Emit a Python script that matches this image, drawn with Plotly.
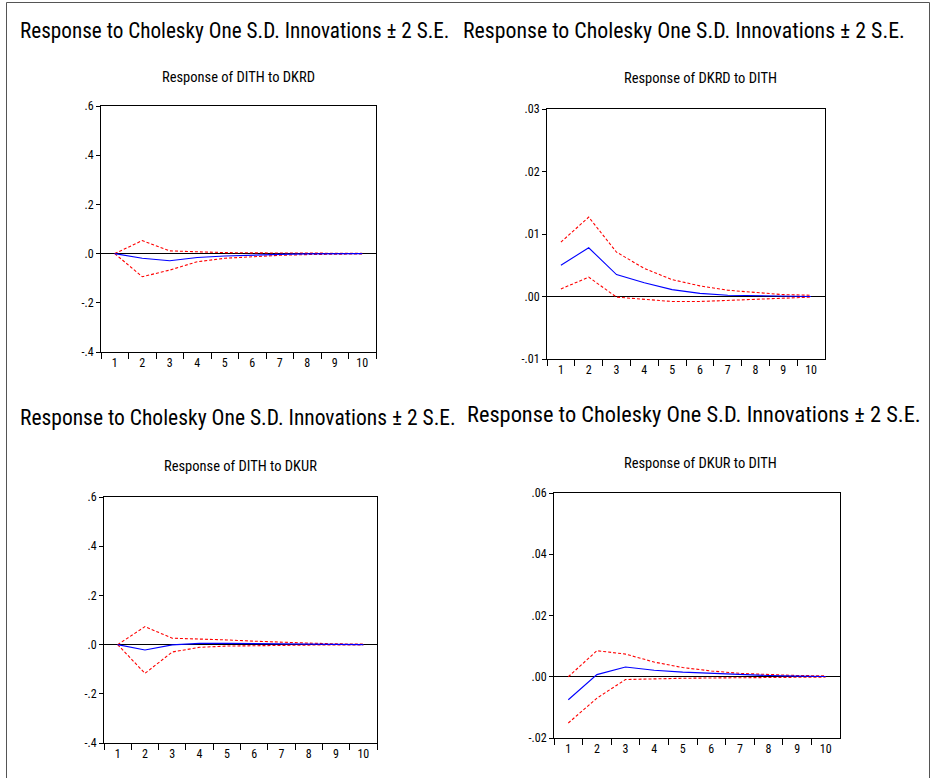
import plotly.graph_objects as go

W, H = 931, 778
periods = [1, 2, 3, 4, 5, 6, 7, 8, 9, 10]

# Panel 1: Response of DITH to DKRD
p1_resp = [0.0, -0.019, -0.029, -0.016, -0.010, -0.005, -0.003, -0.001, 0.0, 0.0]
p1_up = [0.0, 0.053, 0.011, 0.007, 0.004, 0.003, 0.002, 0.001, 0.001, 0.001]
p1_lo = [0.0, -0.094, -0.067, -0.033, -0.019, -0.012, -0.007, -0.004, -0.002, -0.001]

# Panel 2: Response of DKRD to DITH
p2_resp = [0.0050, 0.0078, 0.0035, 0.0022, 0.0011, 0.0005, 0.0002, 0.0001, 0.0, 0.0]
p2_up = [0.0087, 0.0127, 0.0071, 0.0045, 0.0027, 0.0017, 0.0010, 0.0006, 0.0003, 0.0002]
p2_lo = [0.0012, 0.0031, -0.0001, -0.0005, -0.0008, -0.0008, -0.0006, -0.0004, -0.0002, -0.0001]

# Panel 3: Response of DITH to DKUR
p3_resp = [0.0, -0.022, -0.001, 0.005, 0.005, 0.004, 0.003, 0.002, 0.001, 0.0]
p3_up = [0.0, 0.073, 0.026, 0.024, 0.019, 0.014, 0.009, 0.006, 0.003, 0.002]
p3_lo = [0.0, -0.117, -0.030, -0.011, -0.006, -0.004, -0.003, -0.002, -0.001, -0.001]

# Panel 4: Response of DKUR to DITH
p4_resp = [-0.0075, 0.0007, 0.0032, 0.0021, 0.0015, 0.0011, 0.0007, 0.0004, 0.0002, 0.0001]
p4_up = [0.0, 0.0085, 0.0074, 0.0048, 0.0030, 0.0019, 0.0011, 0.0007, 0.0004, 0.0003]
p4_lo = [-0.0151, -0.0070, -0.0009, -0.0006, -0.0005, -0.0004, -0.0003, -0.0002, -0.0002, -0.0001]

yt1 = [-0.4, -0.2, 0.0, 0.2, 0.4, 0.6]
yl1 = ["-.4", "-.2", ".0", ".2", ".4", ".6"]
yt2 = [-0.01, 0.0, 0.01, 0.02, 0.03]
yl2 = ["-.01", ".00", ".01", ".02", ".03"]
yt4 = [-0.02, 0.0, 0.02, 0.04, 0.06]
yl4 = ["-.02", ".00", ".02", ".04", ".06"]

panel_titles = ["Response of DITH to DKRD", "Response of DKRD to DITH",
                "Response of DITH to DKUR", "Response of DKUR to DITH"]
main_title = "Response to Cholesky One S.D. Innovations \u00b1 2 S.E."

FONT = "Roboto Condensed, Arial Narrow, DejaVu Sans Condensed, sans-serif"

# pixel boxes: (x0, x1, ytop, ybottom)
boxes = [(101, 376, 106, 352), (547, 825, 109, 359),
         (104, 377, 497, 743), (554, 840, 493, 738)]
panels = [
    (p1_resp, p1_up, p1_lo, yt1, yl1, [-0.4, 0.6]),
    (p2_resp, p2_up, p2_lo, yt2, yl2, [-0.01, 0.03]),
    (p3_resp, p3_up, p3_lo, yt1, yl1, [-0.4, 0.6]),
    (p4_resp, p4_up, p4_lo, yt4, yl4, [-0.02, 0.06]),
]

fig = go.Figure()
layout = dict(width=W, height=H, margin=dict(l=0, r=0, t=0, b=0, autoexpand=False),
              paper_bgcolor="white", plot_bgcolor="white", showlegend=False,
              font=dict(family=FONT, color="black"))

for i, ((resp, up, lo, tv, tt, rng), (x0, x1, yt, yb)) in enumerate(zip(panels, boxes)):
    n = i + 1
    xa = "x" if n == 1 else f"x{n}"
    ya = "y" if n == 1 else f"y{n}"
    xs = [str(p) for p in periods]
    for vals, col, dash in [(up, "red", "3px,2px"), (lo, "red", "3px,2px"), (resp, "blue", "solid")]:
        fig.add_trace(go.Scatter(x=xs, y=vals, mode="lines", xaxis=xa, yaxis=ya,
                                 line=dict(color=col, width=1.1, dash=dash),
                                 hoverinfo="skip"))
    layout[f"xaxis{'' if n == 1 else n}"] = dict(
        domain=[x0 / W, x1 / W], anchor=ya, type="category",
        tickson="boundaries", ticks="outside", ticklen=6, tickcolor="black",
        showline=True, linecolor="black", linewidth=1, mirror=True,
        showgrid=False, zeroline=False, tickfont=dict(size=12, family=FONT),
        range=[-0.5, 9.5], fixedrange=True, automargin=False)
    layout[f"yaxis{'' if n == 1 else n}"] = dict(
        domain=[1 - yb / H, 1 - yt / H], anchor=xa, range=rng,
        tickvals=tv, ticktext=tt, ticks="outside", ticklen=4, tickcolor="black",
        showline=True, linecolor="black", linewidth=1, mirror=True,
        showgrid=False, zeroline=True, zerolinecolor="black", zerolinewidth=1,
        tickfont=dict(size=12, family=FONT), fixedrange=True, automargin=False)

annotations = []
title_pos = [(238, 77), (700, 78), (240, 466), (700, 463)]
for t, (cx, cy) in zip(panel_titles, title_pos):
    annotations.append(dict(text=t, x=cx / W, y=1 - cy / H, xref="paper", yref="paper",
                            xanchor="center", yanchor="middle", showarrow=False,
                            font=dict(size=14.5, family=FONT, color="black")))
main_pos = [(18, 30, 21.2), (461, 30, 21.8), (18, 417, 21.5), (465, 414, 22.4)]
for (lx, cy, fs) in main_pos:
    annotations.append(dict(text=main_title, x=lx / W, y=1 - cy / H, xref="paper", yref="paper",
                            xanchor="left", yanchor="middle", showarrow=False,
                            font=dict(size=fs, family=FONT, color="black")))
layout["annotations"] = annotations
layout["shapes"] = [dict(type="rect", xref="paper", yref="paper",
                         x0=6.5 / W, x1=929.5 / W, y0=-0.01, y1=1 - 2.5 / H,
                         line=dict(color="#555555", width=1), fillcolor="rgba(0,0,0,0)")]

fig.update_layout(**layout)
fig.write_html("out.html", config={"displayModeBar": False},
               post_script="document.body.style.margin='0';document.body.style.overflow='hidden';")
